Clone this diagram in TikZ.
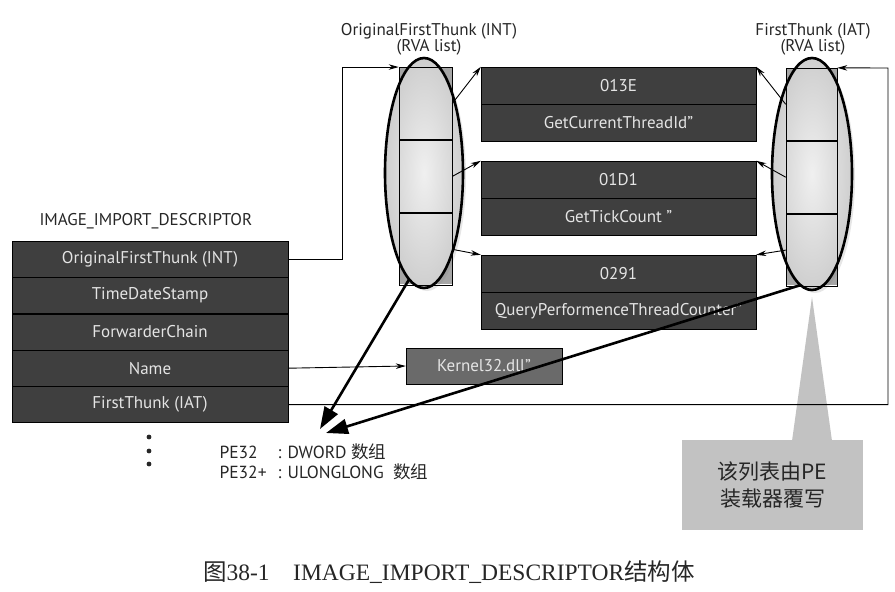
\documentclass[tikz,border=0pt]{standalone}
\usepackage{fontspec}
\setmainfont{Liberation Serif}
\setsansfont{PT Sans}
\newfontfamily\cjk{Noto Sans CJK SC}
\usetikzlibrary{positioning,shapes.geometric,arrows.meta,shadows}

\definecolor{fielddark}{HTML}{3F3F3F}
\definecolor{fieldtext}{HTML}{E4E4E4}
\definecolor{colgray}{HTML}{A6A6A6}
\definecolor{dllgray}{HTML}{6A6A6A}
\definecolor{notegray}{HTML}{C2C2C2}
\definecolor{inkgray}{HTML}{262626}

\tikzset{
  field/.style={draw=black, fill=fielddark, text=fieldtext, inner sep=0pt,
    minimum width=276pt, minimum height=36pt, font=\sffamily\fontsize{17}{18}\selectfont},
  fnrow/.style={field, minimum width=275pt, minimum height=37pt},
  cell/.style={draw=black, line width=0.6pt, minimum width=53pt, minimum height=72.3pt, inner sep=0pt},
  ringfill/.style={ellipse, inner sep=0pt, minimum width=78pt, minimum height=230pt,
    inner color=gray!12, outer color=gray!38,
    drop shadow={opacity=0.2, shadow xshift=3pt, shadow yshift=-3pt}},
  ring/.style={draw=black, line width=2.6pt},
  link/.style={line width=0.9pt, -{Stealth[length=10pt,width=5.5pt]}},
  bigarrow/.style={line width=2.6pt, -{Triangle[length=22pt,width=15pt]}},
  lbl/.style={text=inkgray, align=center, font=\sffamily\fontsize{17}{16}\selectfont}
}

\begin{document}
\begin{tikzpicture}[x=1pt,y=-1pt]
  \useasboundingbox (0,0) rectangle (895,592);

  % descriptor
  \node[lbl, anchor=west] (desc) at (36,221) {IMAGE\_IMPORT\_DESCRIPTOR};
  \node[field] (oft) at (150,259) {OriginalFirstThunk (INT)};
  \node[field, below=0pt of oft] (tds) {TimeDateStamp};
  \node[field, below=0pt of tds] (fwd) {ForwarderChain};
  \node[field, below=0pt of fwd] (name) {Name};
  \node[field, below=0pt of name] (fth) {FirstThunk (IAT)};
  \foreach \y in {437,451,464} \fill[inkgray] (149,\y) circle (2.4pt);

  % INT list
  \node[lbl] (intlbl) at (429,39) {OriginalFirstThunk (INT)\\(RVA list)};
  \fill[colgray] (399,67) rectangle (452,284);
  \node[ringfill] (intell) at (424,173) {};
  \node[cell] (int1) at (425.5,103.5) {};
  \node[cell, below=0pt of int1] (int2) {};
  \node[cell, below=0pt of int2] (int3) {};
  \draw[ring] (intell.center) ellipse [x radius=39pt, y radius=115pt];

  % IAT list
  \node[lbl] (iatlbl) at (813,39) {FirstThunk (IAT)\\(RVA list)};
  \fill[colgray] (786,68) rectangle (837,285);
  \node[ringfill, minimum width=80pt, minimum height=232pt] (iatell) at (812,174) {};
  \node[cell, minimum width=51pt] (iat1) at (811.5,104.3) {};
  \node[cell, minimum width=51pt, below=0pt of iat1] (iat2) {};
  \node[cell, minimum width=51pt, below=0pt of iat2] (iat3) {};
  \draw[ring] (iatell.center) ellipse [x radius=40pt, y radius=116pt];

  % hint / name entries
  \node[fnrow] (f1a) at (618.5,85.5) {013E};
  \node[fnrow, below=0pt of f1a] (f1b) {GetCurrentThreadId”};
  \node[fnrow] (f2a) at (618.5,179.5) {01D1};
  \node[fnrow, below=0pt of f2a] (f2b) {GetTickCount ”};
  \node[fnrow] (f3a) at (618.5,273.5) {0291};
  \node[fnrow, below=0pt of f3a] (f3b) {QueryPerformenceThreadCounter”};
  \node[field, fill=dllgray, minimum width=156pt] (dll) at (484,366) {Kernel32.dll”};

  % note
  \coordinate (notetip) at (812,297);
  \fill[notegray] (notetip) -- (792,441) -- (832,441) -- cycle;
  \node[fill=notegray, text=inkgray, minimum width=181pt, minimum height=90pt, align=center,
    font=\cjk\fontsize{21}{27}\selectfont] (note) at (772.5,485) {该列表由PE\\装载器覆写};

  % links
  \draw[link] (oft.east) -- ++(54,0) |- (int1.north west);
  \coordinate (ret) at (888,68);
  \draw[link] (fth.east) -| (ret) -- (iat1.north east);
  \draw[link] (name.east) -- (dll.west);
  \draw[link] (int1.east) -- (f1a.north west);
  \draw[link] (int2.east) -- (f2a.north west);
  \draw[link] (int3.east) -- (f3a.north west);
  \draw[link] (iat1.west) -- (f1a.north east);
  \draw[link] (iat2.west) -- (f2a.north east);
  \draw[link] (iat3.west) -- (f3a.north east);

  % element types
  \coordinate (tipint) at (320,429);
  \coordinate (tipiat) at (326,433);
  \draw[bigarrow] (intell.262) -- (tipint);
  \draw[bigarrow] (iatell.264) -- (tipiat);
  \node[lbl, anchor=west, align=left, font=\sffamily\fontsize{17.5}{20}\selectfont] (pe) at (216,462)
    {\makebox[58pt][l]{PE32}: DWORD\ {\cjk 数组}\\\makebox[58pt][l]{PE32+}: ULONGLONG\ \ {\cjk 数组}};

  \node[font=\fontsize{23.5}{26}\selectfont, text=inkgray] (cap) at (449,572)
    {{\cjk 图}38-1\quad IMAGE\_IMPORT\_DESCRIPTOR{\cjk 结构体}};
\end{tikzpicture}
\end{document}
